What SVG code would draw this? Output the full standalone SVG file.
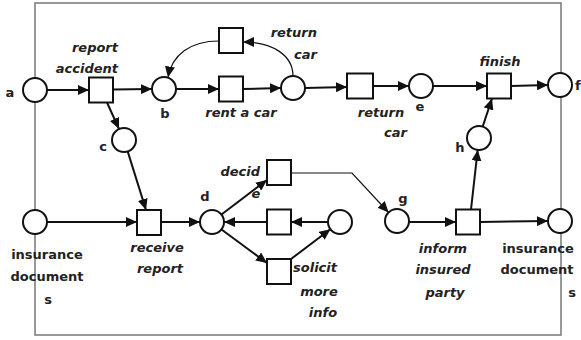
<svg xmlns="http://www.w3.org/2000/svg" width="581" height="340" viewBox="0 0 581 340">
  <style>
    .frame { fill: none; stroke: #777; stroke-width: 1.5; }
    .place { fill: #fff; stroke: #111; stroke-width: 2; }
    .trans { fill: #fff; stroke: #111; stroke-width: 2; }
    .arc { fill: none; stroke: #111; stroke-width: 2; marker-end: url(#arrow); }
    .arc.thin { stroke-width: 1.2; }
    text { font-family: "DejaVu Sans", Verdana, sans-serif; font-size: 13px; font-weight: bold; fill: #222; }
    .it { font-style: italic; }
    .mid { text-anchor: middle; }
    .end { text-anchor: end; }
  </style>
  <defs>
    <marker id="arrow" markerUnits="userSpaceOnUse" markerWidth="11" markerHeight="10" refX="11" refY="5" orient="auto">
      <path d="M0,0 L11,5 L0,10 z" fill="#111"/>
    </marker>
  </defs>

  <rect id="frame" class="frame" x="35" y="3" width="526" height="332"/>

  <g id="connectors">
    <line class="arc" x1="47" y1="90" x2="89" y2="90"/>
    <line class="arc" x1="113" y1="89.5" x2="152" y2="89"/>
    <line class="arc" x1="107" y1="102.5" x2="119" y2="129"/>
    <line class="arc" x1="127.7" y1="151.4" x2="146" y2="210"/>
    <line class="arc" x1="176" y1="89" x2="219" y2="89"/>
    <line class="arc" x1="243" y1="89" x2="281" y2="88"/>
    <path class="arc thin" d="M293,76 C293,55 272,42 243,42"/>
    <path class="arc thin" d="M219,41 C190,41 172,55 168,77.5"/>
    <line class="arc" x1="305" y1="88" x2="347" y2="87"/>
    <line class="arc" x1="373" y1="86" x2="409" y2="86"/>
    <line class="arc" x1="433" y1="86" x2="487" y2="86"/>
    <line class="arc" x1="511" y1="86" x2="548" y2="85"/>
    <line class="arc" x1="482.7" y1="126.6" x2="492" y2="98.5"/>
    <line class="arc" x1="47" y1="222" x2="137" y2="222"/>
    <line class="arc" x1="161" y1="222" x2="200" y2="222"/>
    <line class="arc" x1="221.5" y1="214.5" x2="267" y2="180"/>
    <line class="arc" x1="328" y1="222" x2="291" y2="222"/>
    <line class="arc" x1="267" y1="222" x2="224" y2="222"/>
    <line class="arc" x1="221.5" y1="229.5" x2="267" y2="263"/>
    <line class="arc" x1="291" y1="259" x2="330.4" y2="229.2"/>
    <polyline class="arc thin" points="291,173 352,173 388.6,212.5"/>
    <line class="arc" x1="409" y1="222" x2="456" y2="222"/>
    <line class="arc" x1="480" y1="222" x2="548" y2="221"/>
    <line class="arc" x1="471" y1="209.5" x2="477.7" y2="149.9"/>
  </g>

  <g id="a"><circle class="place" cx="35" cy="90" r="12"/><text class="mid" x="10" y="97">a</text></g>
  <g id="report-accident"><rect class="trans" x="89" y="77.5" width="24" height="25"/><text class="it end" x="118" y="52">report</text><text class="it end" x="118" y="73">accident</text></g>
  <g id="b"><circle class="place" cx="164" cy="89" r="12"/><text class="mid" x="165" y="118">b</text></g>
  <g id="c"><circle class="place" cx="124" cy="140" r="12"/><text class="mid" x="103" y="151">c</text></g>
  <g id="return-car-1"><rect class="trans" x="219" y="28" width="24" height="25"/><text class="it end" x="317" y="37">return</text><text class="it end" x="317" y="59">car</text></g>
  <g id="rent-a-car"><rect class="trans" x="219" y="76.5" width="24" height="25"/><text class="it mid" x="241" y="117">rent a car</text></g>
  <g id="p-car"><circle class="place" cx="293" cy="88" r="12"/></g>
  <g id="return-car-2"><rect class="trans" x="347" y="73.5" width="26" height="25"/><text class="it mid" x="381" y="117">return</text><text class="it end" x="407" y="137">car</text></g>
  <g id="e"><circle class="place" cx="421" cy="86" r="12"/><text class="mid" x="420" y="111">e</text></g>
  <g id="finish"><rect class="trans" x="487" y="73.5" width="24" height="25"/><text class="it mid" x="500" y="66">finish</text></g>
  <g id="f"><circle class="place" cx="560" cy="85" r="12"/><text x="575" y="90">f</text></g>
  <g id="h"><circle class="place" cx="479" cy="138" r="12"/><text class="mid" x="460" y="152">h</text></g>

  <g id="insurance-documents-in"><circle class="place" cx="35" cy="222" r="12"/><text class="mid" x="47" y="259">insurance</text><text class="mid" x="47" y="281">document</text><text class="mid" x="48" y="304">s</text></g>
  <g id="receive-report"><rect class="trans" x="137" y="210" width="24" height="25"/><text class="it mid" x="157" y="252">receive</text><text class="it mid" x="160" y="273">report</text></g>
  <g id="d"><circle class="place" cx="212" cy="222" r="12"/><text class="mid" x="205" y="201">d</text></g>
  <g id="decide"><rect class="trans" x="267" y="160" width="24" height="25"/><text class="it end" x="260" y="176">decid</text><text class="it mid" x="256" y="198">e</text></g>
  <g id="retry"><rect class="trans" x="267" y="209.5" width="24" height="25"/></g>
  <g id="p-info"><circle class="place" cx="340" cy="222" r="12"/></g>
  <g id="solicit-more-info"><rect class="trans" x="267" y="259" width="24" height="25"/><text class="it" x="293" y="272">solicit</text><text class="it mid" x="319" y="296">more</text><text class="it mid" x="323" y="317">info</text></g>
  <g id="g"><circle class="place" cx="397" cy="221" r="12"/><text class="mid" x="403" y="203">g</text></g>
  <g id="inform-insured-party"><rect class="trans" x="456" y="209.5" width="24" height="25"/><text class="it mid" x="443" y="253">inform</text><text class="it mid" x="443" y="274">insured</text><text class="it mid" x="445" y="297">party</text></g>
  <g id="insurance-documents-out"><circle class="place" cx="560" cy="221" r="12"/><text class="mid" x="538" y="253">insurance</text><text class="mid" x="537" y="274">document</text><text class="mid" x="572" y="297">s</text></g>
</svg>
